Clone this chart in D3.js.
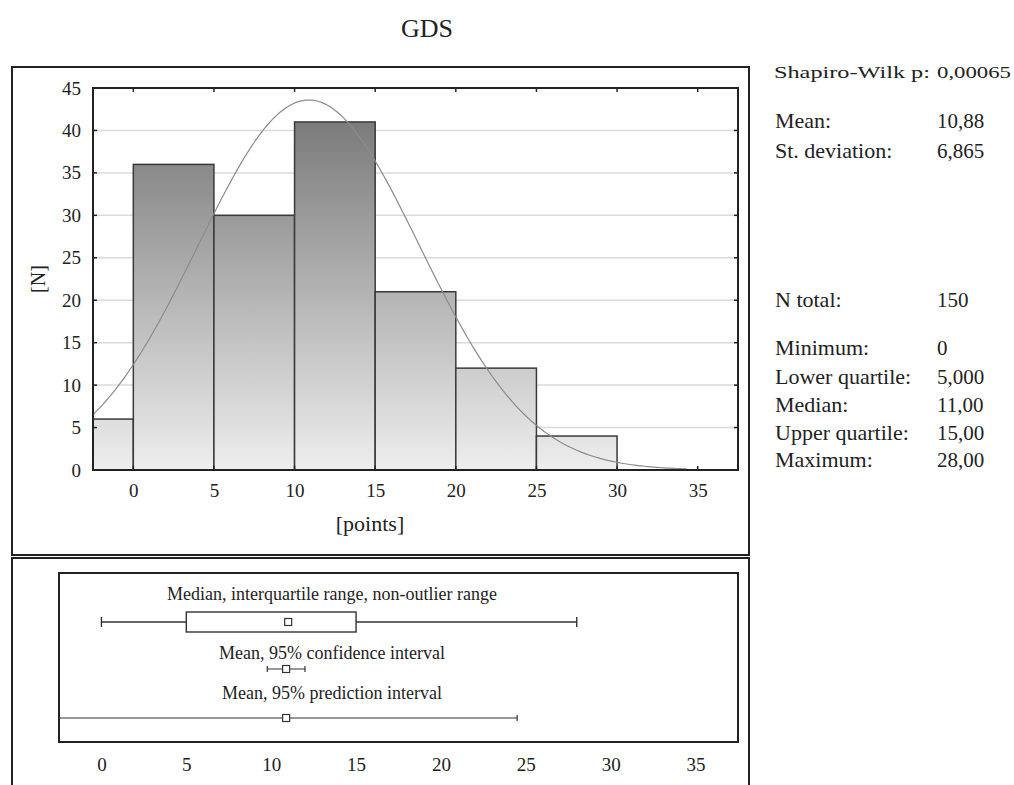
<!DOCTYPE html>
<html>
<head>
    <meta charset="utf-8">
    <style>
        body { margin: 0; background: #fff; }
        text { font-family: "Liberation Serif", "Times New Roman", serif; fill: #222; }
    </style>
</head>
<body>
<div id="chart"></div>
<script src="https://cdn.jsdelivr.net/npm/d3@7"></script>
<script type="text/javascript">

    // histogram bins (bin start, bin end) and counts
    var binStarts = [-5, 0, 5, 10, 15, 20, 25];
    var binWidth = 5;
    var counts = [6, 36, 30, 41, 21, 12, 4];

    var xTicks = [0, 5, 10, 15, 20, 25, 30, 35];
    var yTicks = [0, 5, 10, 15, 20, 25, 30, 35, 40, 45];

    // descriptive stats shown on the right
    var statLabels = ["Mean:", "St. deviation:", "N total:", "Minimum:", "Lower quartile:", "Median:", "Upper quartile:", "Maximum:"];
    var statValues = ["10,88", "6,865", "150", "0", "5,000", "11,00", "15,00", "28,00"];
    var swLabel = "Shapiro-Wilk p:";
    var swValue = "0,00065";

    var mean = 10.88;
    var sd = 6.865;
    var nTotal = 150;
    var curveEnd = 34.4;

    // box plot values: min, q1, median, q3, max
    var boxStats = [0, 5, 11, 15, 28];
    var ciRange = [9.77, 11.99];
    var piRange = [-2.73, 24.49];
    var boxTitles = ["Median, interquartile range, non-outlier range", "Mean, 95% confidence interval", "Mean, 95% prediction interval"];

    var w = 1014;
    var h = 785;

    var svg = d3.select("#chart")
        .append("svg")
        .attr("width", w)
        .attr("height", h);

    var defs = svg.append("defs");

    var x = d3.scaleLinear().domain([-2.5, 37.5]).range([93, 738]);
    var y = d3.scaleLinear().domain([0, 45]).range([470, 88]);
    var xb = d3.scaleLinear().domain([-2.5, 37.5]).range([59, 738]);

    // title
    svg.append("text")
        .attr("x", 427)
        .attr("y", 37)
        .attr("text-anchor", "middle")
        .style("font-size", "26px")
        .text("GDS");

    // outer frames
    svg.append("rect")
        .attr("x", 12).attr("y", 67).attr("width", 737).attr("height", 488)
        .attr("fill", "none").attr("stroke", "#222").attr("stroke-width", 2);
    svg.append("rect")
        .attr("x", 12).attr("y", 558).attr("width", 737).attr("height", 260)
        .attr("fill", "none").attr("stroke", "#222").attr("stroke-width", 2);

    // gridlines
    svg.selectAll(".grid")
        .data(yTicks.slice(1))
        .enter()
        .append("line")
        .attr("class", "grid")
        .attr("x1", x.range()[0])
        .attr("x2", x.range()[1])
        .attr("y1", function (d) { return y(d); })
        .attr("y2", function (d) { return y(d); })
        .attr("stroke", "#dadada")
        .attr("stroke-width", 1.5);

    defs.append("clipPath")
        .attr("id", "plot-clip")
        .append("rect")
        .attr("x", x.range()[0]).attr("y", y.range()[1])
        .attr("width", x.range()[1] - x.range()[0])
        .attr("height", y.range()[0] - y.range()[1]);

    var grad = defs.append("linearGradient")
        .attr("id", "bar-grad")
        .attr("gradientUnits", "userSpaceOnUse")
        .attr("x1", 0).attr("x2", 0)
        .attr("y1", y(0)).attr("y2", y(45));
    grad.append("stop").attr("offset", "0%").attr("stop-color", "#eeeeee");
    grad.append("stop").attr("offset", "100%").attr("stop-color", "#707070");

    var plot = svg.append("g").attr("clip-path", "url(#plot-clip)");

    // bars
    plot.selectAll("rect")
        .data(counts)
        .enter()
        .append("rect")
        .attr("x", function (d, i) { return x(binStarts[i]); })
        .attr("y", function (d) { return y(d); })
        .attr("width", function (d, i) { return x(binStarts[i] + binWidth) - x(binStarts[i]); })
        .attr("height", function (d) { return y(0) - y(d); })
        .attr("fill", "url(#bar-grad)")
        .attr("stroke", "#3a3a3a")
        .attr("stroke-width", 1.5);

    // fitted normal curve from the mean / st. deviation shown on the right
    var curvePts = d3.range(x.domain()[0], curveEnd + 0.01, 0.2).map(function (v) {
        var z = (v - mean) / sd;
        return [v, nTotal * binWidth * Math.exp(-0.5 * z * z) / (sd * Math.sqrt(2 * Math.PI))];
    });

    plot.append("path")
        .datum(curvePts)
        .attr("d", d3.line()
            .x(function (d) { return x(d[0]); })
            .y(function (d) { return y(d[1]); }))
        .attr("fill", "none")
        .attr("stroke", "#8c8c8c")
        .attr("stroke-width", 1.2);

    // inward ticks
    var tickLen = 4;
    svg.selectAll(".tick-top")
        .data(xTicks)
        .enter()
        .append("line")
        .attr("x1", function (d) { return x(d); })
        .attr("x2", function (d) { return x(d); })
        .attr("y1", y.range()[1])
        .attr("y2", y.range()[1] + tickLen)
        .attr("stroke", "#222").attr("stroke-width", 1.5);
    svg.selectAll(".tick-bottom")
        .data(xTicks)
        .enter()
        .append("line")
        .attr("x1", function (d) { return x(d); })
        .attr("x2", function (d) { return x(d); })
        .attr("y1", y.range()[0])
        .attr("y2", y.range()[0] - tickLen)
        .attr("stroke", "#222").attr("stroke-width", 1.5);
    svg.selectAll(".tick-left")
        .data(yTicks)
        .enter()
        .append("line")
        .attr("x1", x.range()[0])
        .attr("x2", x.range()[0] + tickLen)
        .attr("y1", function (d) { return y(d); })
        .attr("y2", function (d) { return y(d); })
        .attr("stroke", "#222").attr("stroke-width", 1.5);
    svg.selectAll(".tick-right")
        .data(yTicks)
        .enter()
        .append("line")
        .attr("x1", x.range()[1])
        .attr("x2", x.range()[1] - tickLen)
        .attr("y1", function (d) { return y(d); })
        .attr("y2", function (d) { return y(d); })
        .attr("stroke", "#222").attr("stroke-width", 1.5);

    // plot frame
    svg.append("rect")
        .attr("x", x.range()[0]).attr("y", y.range()[1])
        .attr("width", x.range()[1] - x.range()[0])
        .attr("height", y.range()[0] - y.range()[1])
        .attr("fill", "none").attr("stroke", "#222").attr("stroke-width", 2);

    // axis labels
    var xAxis = svg.append("g")
        .attr("transform", "translate(0," + y.range()[0] + ")")
        .call(d3.axisBottom(x).tickValues(xTicks).tickSize(0).tickPadding(14));
    var yAxis = svg.append("g")
        .attr("transform", "translate(" + x.range()[0] + ",0)")
        .call(d3.axisLeft(y).tickValues(yTicks).tickSize(0).tickPadding(12));
    svg.selectAll(".domain").remove();
    svg.selectAll(".tick text")
        .style("font-family", "Liberation Serif")
        .style("font-size", "19px")
        .attr("fill", "#222");

    svg.append("text")
        .attr("x", 370)
        .attr("y", 531)
        .attr("text-anchor", "middle")
        .style("font-size", "22px")
        .text("[points]");

    svg.append("text")
        .attr("transform", "translate(45,279) rotate(-90)")
        .attr("text-anchor", "middle")
        .style("font-size", "20px")
        .text("[N]");

    // stats panel
    svg.append("text")
        .attr("x", 774).attr("y", 78)
        .attr("textLength", 156)
        .attr("lengthAdjust", "spacingAndGlyphs")
        .style("font-size", "17px")
        .text(swLabel);
    svg.append("text")
        .attr("x", 937).attr("y", 78)
        .attr("textLength", 74)
        .attr("lengthAdjust", "spacingAndGlyphs")
        .style("font-size", "17px")
        .text(swValue);

    var statY = [128, 158, 307, 355, 384, 412, 440, 467];
    svg.selectAll(".stat-label")
        .data(statLabels)
        .enter()
        .append("text")
        .attr("x", 775)
        .attr("y", function (d, i) { return statY[i]; })
        .style("font-size", "22px")
        .text(function (d) { return d; });
    svg.selectAll(".stat-value")
        .data(statValues)
        .enter()
        .append("text")
        .attr("x", 937)
        .attr("y", function (d, i) { return statY[i]; })
        .style("font-size", "21px")
        .text(function (d) { return d; });

    // box plot panel
    defs.append("clipPath")
        .attr("id", "box-clip")
        .append("rect")
        .attr("x", xb.range()[0]).attr("y", 573)
        .attr("width", xb.range()[1] - xb.range()[0])
        .attr("height", 169);

    var bp = svg.append("g").attr("clip-path", "url(#box-clip)");
    var rowBox = 622, rowCi = 669, rowPi = 718;
    var dark = "#333";

    // whiskers
    bp.append("line")
        .attr("x1", xb(boxStats[0])).attr("x2", xb(boxStats[4]))
        .attr("y1", rowBox).attr("y2", rowBox)
        .attr("stroke", dark).attr("stroke-width", 1.4);
    [boxStats[0], boxStats[4]].forEach(function (v) {
        bp.append("line")
            .attr("x1", xb(v)).attr("x2", xb(v))
            .attr("y1", rowBox - 5).attr("y2", rowBox + 5)
            .attr("stroke", dark).attr("stroke-width", 1.4);
    });
    bp.append("rect")
        .attr("x", xb(boxStats[1])).attr("y", rowBox - 10)
        .attr("width", xb(boxStats[3]) - xb(boxStats[1]))
        .attr("height", 20)
        .attr("fill", "#fff").attr("stroke", dark).attr("stroke-width", 1.4);

    // confidence interval
    bp.append("line")
        .attr("x1", xb(ciRange[0])).attr("x2", xb(ciRange[1]))
        .attr("y1", rowCi).attr("y2", rowCi)
        .attr("stroke", dark).attr("stroke-width", 1.2);
    ciRange.forEach(function (v) {
        bp.append("line")
            .attr("x1", xb(v)).attr("x2", xb(v))
            .attr("y1", rowCi - 3).attr("y2", rowCi + 3)
            .attr("stroke", dark).attr("stroke-width", 1.2);
    });

    // prediction interval
    bp.append("line")
        .attr("x1", xb(piRange[0])).attr("x2", xb(piRange[1]))
        .attr("y1", rowPi).attr("y2", rowPi)
        .attr("stroke", dark).attr("stroke-width", 1.2);
    piRange.forEach(function (v) {
        bp.append("line")
            .attr("x1", xb(v)).attr("x2", xb(v))
            .attr("y1", rowPi - 3).attr("y2", rowPi + 3)
            .attr("stroke", dark).attr("stroke-width", 1.2);
    });

    // centre markers
    var markers = [[boxStats[2], rowBox], [mean, rowCi], [mean, rowPi]];
    bp.selectAll(".marker")
        .data(markers)
        .enter()
        .append("rect")
        .attr("x", function (d) { return xb(d[0]) - 3.5; })
        .attr("y", function (d) { return d[1] - 3.5; })
        .attr("width", 7).attr("height", 7)
        .attr("fill", "#fff").attr("stroke", dark).attr("stroke-width", 1.2);

    var titleY = [600, 659, 699];
    svg.selectAll(".box-title")
        .data(boxTitles)
        .enter()
        .append("text")
        .attr("x", 332)
        .attr("y", function (d, i) { return titleY[i]; })
        .attr("text-anchor", "middle")
        .style("font-size", "18px")
        .text(function (d) { return d; });

    svg.append("rect")
        .attr("x", xb.range()[0]).attr("y", 573)
        .attr("width", xb.range()[1] - xb.range()[0])
        .attr("height", 169)
        .attr("fill", "none").attr("stroke", "#222").attr("stroke-width", 2);

    var xbAxis = svg.append("g")
        .attr("transform", "translate(0,742)")
        .call(d3.axisBottom(xb).tickValues(xTicks).tickSize(0).tickPadding(16));
    xbAxis.select(".domain").remove();
    xbAxis.selectAll("text")
        .style("font-family", "Liberation Serif")
        .style("font-size", "19px")
        .attr("fill", "#222");

</script>
</body>
</html>
